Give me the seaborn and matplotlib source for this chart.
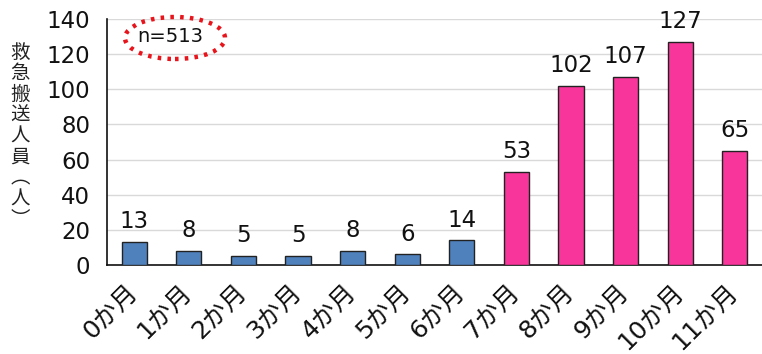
import matplotlib
matplotlib.use("Agg")
import matplotlib.pyplot as plt
from matplotlib.patches import Ellipse
import seaborn as sns
import pandas as pd

# Data
months = ["0か月", "1か月", "2か月", "3か月", "4か月", "5か月", "6か月",
          "7か月", "8か月", "9か月", "10か月", "11か月"]
counts = [13, 8, 5, 5, 8, 6, 14, 53, 102, 107, 127, 65]
bar_colors = ["#4F81BD"] * 7 + ["#F7359A"] * 5
y_ticks = [0, 20, 40, 60, 80, 100, 120, 140]
y_label = "救急搬送人員︵人︶"
n_label = "n=513"

sns.set_theme(style="white")
FONTS = ["DejaVu Sans", "Noto Sans CJK JP"]
plt.rcParams["font.family"] = FONTS

df = pd.DataFrame({"month": months, "count": counts})

fig = plt.figure(figsize=(7.62, 3.54), dpi=100)
ax = fig.add_axes([107 / 762, 1 - 265 / 354, 655 / 762, 246 / 354])

sns.barplot(data=df, x="month", y="count", hue="month", palette=bar_colors,
            saturation=1, legend=False, width=0.46, edgecolor="#222222",
            linewidth=1.0, ax=ax, zorder=3)

ax.set_ylim(0, 140)
ax.set_xlim(-0.5, len(months) - 0.5)
ax.set_yticks(y_ticks)
ax.set_yticklabels([str(t) for t in y_ticks], fontsize=16.5, color="#111111")
ax.yaxis.grid(True, color="#d9d9d9", linewidth=1.0, zorder=0)
ax.set_axisbelow(True)
ax.tick_params(axis="y", length=0, pad=12)
ax.tick_params(axis="x", length=0, pad=17)
ax.set_xticks(range(len(months)))
ax.set_xticklabels(months, rotation=45, ha="right", va="center",
                   rotation_mode="anchor", fontsize=18, color="#111111")
ax.set_xlabel("")
ax.set_ylabel("")

for side in ["top", "right"]:
    ax.spines[side].set_visible(False)
for side in ["left", "bottom"]:
    ax.spines[side].set_color("#111111")
    ax.spines[side].set_linewidth(1.2)

# Value labels above bars
for i, v in enumerate(counts):
    ax.text(i, v + 5, str(v), ha="center", va="bottom", fontsize=16.5,
            color="#111111")

# Vertical y-axis label
fig.text(20 / 762, 1 - 136 / 354, "\n".join(y_label),
         ha="center", va="center", fontsize=14, linespacing=1.0,
         color="#222222", family=["Noto Sans CJK JP", "DejaVu Sans"])

# Sample size note inside a dotted ellipse
ell = Ellipse((175 / 762, 1 - 38 / 354), 100 / 762, 42 / 354,
              transform=fig.transFigure, fill=False, edgecolor="#E8141C",
              linewidth=3.2, linestyle=(0, (0.8, 1.4)))
fig.patches.append(ell)
fig.text(170 / 762, 1 - 37 / 354, n_label, ha="center", va="center",
         fontsize=14, color="#111111")

fig.savefig("out.png", dpi=100)
